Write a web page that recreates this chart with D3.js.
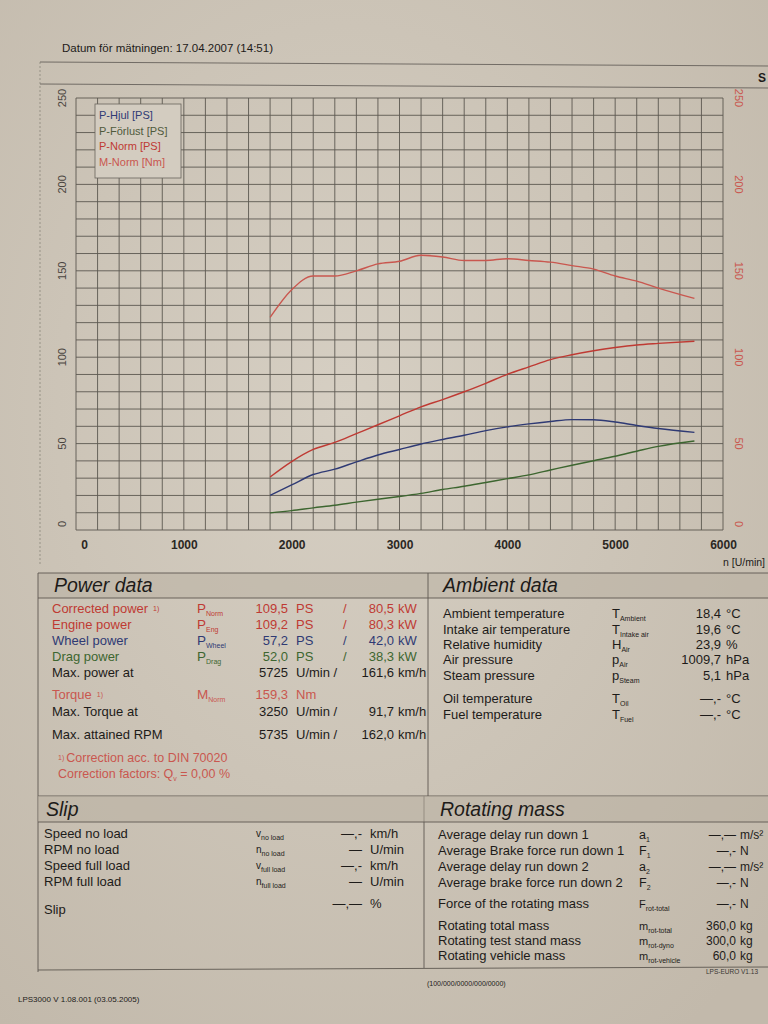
<!DOCTYPE html>
<html>
<head>
<meta charset="utf-8">
<style>
  body { margin: 0; background: #c9c1b4; }
  svg { display: block; font-family: "Liberation Sans", Arial, sans-serif; }
</style>
</head>
<body>
<script src="https://d3js.org/d3.v7.min.js"></script>
<script>
// ---- data ----
const rpm    = [1800, 2000, 2200, 2400, 2600, 2800, 3000, 3200, 3400, 3600, 3800, 4000, 4200, 4400, 4600, 4800, 5000, 5200, 5400, 5735];
const mNorm  = [123, 139, 147, 147, 150, 154, 155.5, 159, 158, 156, 156, 157, 156, 155, 153, 151, 147, 144, 140, 134];
const pNorm  = [30.7, 39.6, 46.6, 50.7, 55.8, 60.9, 66.1, 71.3, 75.5, 80, 84.9, 90.1, 94.4, 98.6, 101.4, 103.7, 105.6, 107.1, 108, 109.2];
const pWheel = [20.1, 26.1, 32.1, 35.2, 39.4, 43.4, 46.6, 49.8, 52.4, 54.8, 57.5, 59.7, 61.4, 62.8, 63.9, 63.8, 62.5, 60.5, 58.7, 56.5];
const pDrag  = [9.9, 11.2, 12.8, 14.3, 16.1, 17.8, 19.4, 21.2, 23.4, 25.3, 27.5, 29.7, 31.9, 34.7, 37.5, 40.1, 42.7, 45.6, 48.4, 51.5];

const xTicks = [0, 1000, 2000, 3000, 4000, 5000, 6000];
const yTicks = [0, 50, 100, 150, 200, 250];
const legendLabels = ["P-Hjul [PS]", "P-Förlust [PS]", "P-Norm [PS]", "M-Norm [Nm]"];

const powerRows = [
  ["Corrected power", "1)", "P", "Norm", "109,5", "PS", "/", "80,5", "kW"],
  ["Engine power", "", "P", "Eng", "109,2", "PS", "/", "80,3", "kW"],
  ["Wheel power", "", "P", "Wheel", "57,2", "PS", "/", "42,0", "kW"],
  ["Drag power", "", "P", "Drag", "52,0", "PS", "/", "38,3", "kW"],
  ["Max. power at", "", "", "", "5725", "U/min /", "", "161,6", "km/h"],
  ["Torque", "1)", "M", "Norm", "159,3", "Nm", "", "", ""],
  ["Max. Torque at", "", "", "", "3250", "U/min /", "", "91,7", "km/h"],
  ["Max. attained RPM", "", "", "", "5735", "U/min /", "", "162,0", "km/h"]
];
const ambientRows = [
  ["Ambient temperature", "T", "Ambient", "18,4", "°C"],
  ["Intake air temperature", "T", "Intake air", "19,6", "°C"],
  ["Relative humidity", "H", "Air", "23,9", "%"],
  ["Air pressure", "p", "Air", "1009,7", "hPa"],
  ["Steam pressure", "p", "Steam", "5,1", "hPa"],
  ["Oil temperature", "T", "Oil", "—,-", "°C"],
  ["Fuel temperature", "T", "Fuel", "—,-", "°C"]
];
const slipRows = [
  ["Speed no load", "v", "no load", "—,-", "km/h"],
  ["RPM no load", "n", "no load", "—", "U/min"],
  ["Speed full load", "v", "full load", "—,-", "km/h"],
  ["RPM full load", "n", "full load", "—", "U/min"],
  ["Slip", "", "", "—,—", "%"]
];
const massRows = [
  ["Average delay run down 1", "a", "1", "—,—", "m/s²"],
  ["Average Brake force run down 1", "F", "1", "—,-", "N"],
  ["Average delay run down 2", "a", "2", "—,—", "m/s²"],
  ["Average brake force run down 2", "F", "2", "—,-", "N"],
  ["Force of the rotating mass", "F", "rot-total", "—,-", "N"],
  ["Rotating total mass", "m", "rot-total", "360,0", "kg"],
  ["Rotating test stand mass", "m", "rot-dyno", "300,0", "kg"],
  ["Rotating vehicle mass", "m", "rot-vehicle", "60,0", "kg"]
];

// ---- colours ----
const col_blue = "#2f3a74", col_green = "#3d6630", col_red = "#bf3a33", col_red2 = "#c9574f", ink = "#1d1b19";
const powerColors = [col_red, col_red, col_blue, col_green, ink, col_red2, ink, ink];

// ---- page ----
const W = 768, H = 1024;
const svg = d3.select("body").append("svg").attr("width", W).attr("height", H);

const defs = svg.append("defs");
const grad = defs.append("radialGradient").attr("id", "paper").attr("cx", "45%").attr("cy", "40%").attr("r", "75%");
grad.append("stop").attr("offset", "0%").attr("stop-color", "#d6cfc3");
grad.append("stop").attr("offset", "100%").attr("stop-color", "#c2b9ab");
svg.append("rect").attr("width", W).attr("height", H).attr("fill", "url(#paper)");

// header
svg.append("text").attr("x", 62).attr("y", 52).attr("font-size", 11.5).attr("fill", ink)
  .text("Datum för mätningen: 17.04.2007 (14:51)");
svg.append("line").attr("x1", 40).attr("x2", W).attr("y1", 62).attr("y2", 66).attr("stroke", "#5a5650").attr("stroke-width", 0.8);
svg.append("line").attr("x1", 40).attr("x2", W).attr("y1", 84).attr("y2", 88).attr("stroke", "#5a5650").attr("stroke-width", 0.8);
svg.append("line").attr("x1", 40).attr("x2", 40).attr("y1", 62).attr("y2", 565).attr("stroke", "#77726a").attr("stroke-width", 0.6).attr("stroke-dasharray", "2,2");
svg.append("text").attr("x", 758).attr("y", 82).attr("font-size", 12).attr("font-weight", "bold").attr("fill", ink).text("S");

// ---- chart ----
const plotL = 76, plotR = 723, plotT = 98, plotB = 530;
const x = d3.scaleLinear().domain([0, 6000]).range([plotL, plotR]);
const yL = d3.scaleLinear().domain([0, 250]).range([plotB, plotT]);
const yR = d3.scaleLinear().domain([0, 250]).range([plotB, plotT]);

const grid = svg.append("g").attr("stroke", "#4a4640").attr("stroke-width", 0.9).attr("opacity", 0.85);
grid.selectAll(".v").data(d3.range(0, 6001, 200)).enter().append("line")
  .attr("x1", d => x(d)).attr("x2", d => x(d)).attr("y1", plotT).attr("y2", plotB);
grid.selectAll(".h").data(d3.range(0, 251, 10)).enter().append("line")
  .attr("x1", plotL).attr("x2", plotR).attr("y1", d => yL(d)).attr("y2", d => yL(d));

// axes (labels only, as on the print)
const xAxis = svg.append("g").attr("transform", "translate(0," + (plotB + 7) + ")")
  .call(d3.axisBottom(x).tickValues(xTicks).tickSize(0).tickFormat(d3.format("d")));
xAxis.select(".domain").remove();
xAxis.selectAll("text").attr("font-size", 12).attr("font-weight", "bold").attr("fill", "#2a2723")
  .attr("font-family", "Liberation Sans, Arial, sans-serif");
xAxis.selectAll(".tick").filter(d => d === 0).select("text").attr("dx", 8);

const yAxisL = svg.append("g").attr("transform", "translate(" + (plotL - 10) + ",0)")
  .call(d3.axisLeft(yL).tickValues(yTicks).tickSize(0));
yAxisL.select(".domain").remove();
yAxisL.selectAll("text").attr("font-size", 11).attr("fill", "#4a4540").attr("x", 0).attr("dy", 0)
  .attr("text-anchor", "middle").attr("transform", "rotate(-90)")
  .attr("font-family", "Liberation Sans, Arial, sans-serif");
yAxisL.selectAll(".tick").each(function(d) {
  d3.select(this).attr("transform", "translate(0," + (d === 0 ? yL(d) - 6 : yL(d)) + ")");
});

const yAxisR = svg.append("g").attr("transform", "translate(" + (plotR + 12) + ",0)")
  .call(d3.axisRight(yR).tickValues(yTicks).tickSize(0));
yAxisR.select(".domain").remove();
yAxisR.selectAll("text").attr("font-size", 11).attr("fill", col_red2).attr("x", 0).attr("dy", 0)
  .attr("text-anchor", "middle").attr("transform", "rotate(90)")
  .attr("font-family", "Liberation Sans, Arial, sans-serif");
yAxisR.selectAll(".tick").each(function(d) {
  d3.select(this).attr("transform", "translate(0," + (d === 0 ? yR(d) - 6 : yR(d)) + ")");
});

svg.append("text").attr("x", 765).attr("y", 566).attr("text-anchor", "end").attr("font-size", 10.5).attr("fill", ink).text("n [U/min]");

// curves
const series = [
  { v: pDrag, c: col_green, y: yL },
  { v: pWheel, c: col_blue, y: yL },
  { v: pNorm, c: col_red, y: yL },
  { v: mNorm, c: col_red2, y: yR }
];
for (const s of series) {
  svg.append("path")
    .datum(rpm.map((r, i) => [r, s.v[i]]))
    .attr("fill", "none").attr("stroke", s.c).attr("stroke-width", 1.4)
    .attr("d", d3.line().x(d => x(d[0])).y(d => s.y(d[1])).curve(d3.curveMonotoneX));
}

// legend
const lg = svg.append("g").attr("transform", "translate(95,104)");
lg.append("rect").attr("width", 86).attr("height", 74).attr("fill", "#d3ccc0").attr("stroke", "#6a655d").attr("stroke-width", 0.8);
const legendColors = [col_blue, "#4f5a3c", col_red, col_red2];
lg.selectAll("text").data(legendLabels).enter().append("text")
  .attr("x", 4).attr("y", (d, i) => 15 + i * 15.5).attr("font-size", 11)
  .attr("fill", (d, i) => legendColors[i]).text(d => d);

// ---- tables ----
const fs = 13;
const rule = (x1, y1, x2, y2, w) => svg.append("line").attr("x1", x1).attr("y1", y1).attr("x2", x2).attr("y2", y2)
  .attr("stroke", "#5d5850").attr("stroke-width", w || 0.9);

function header(x0, x1, y0, y1, label, lx) {
  svg.append("rect").attr("x", x0).attr("y", y0).attr("width", x1 - x0).attr("height", y1 - y0).attr("fill", "#b9b0a2").attr("opacity", 0.55);
  svg.append("text").attr("x", lx).attr("y", y1 - 6).attr("font-size", 19.5).attr("font-style", "italic").attr("fill", ink).text(label);
}

function sym(g, xx, yy, main, sub, color, size) {
  const t = g.append("text").attr("x", xx).attr("y", yy).attr("font-size", size || 12).attr("fill", color);
  t.append("tspan").text(main);
  t.append("tspan").attr("font-size", 7).attr("dy", 3).text(sub);
}

// Power data / Ambient data block
const blk1Top = 573, blk1Head = 598, blk1Bot = 796, divX = 428;
header(38, W, blk1Top, blk1Head, "Power data", 54);
svg.append("text").attr("x", 443).attr("y", blk1Head - 6).attr("font-size", 19.5).attr("font-style", "italic").attr("fill", ink).text("Ambient data");
rule(38, blk1Top, W, blk1Top); rule(38, blk1Head, W, blk1Head); rule(38, blk1Bot, W, blk1Bot);
rule(38, blk1Top, 38, 972); rule(divX, blk1Top, divX, blk1Bot); rule(424, blk1Bot, 424, 968);

const pg = svg.append("g");
const powerY = [613, 629, 645, 661, 677, 699, 716, 739];
powerRows.forEach((r, i) => {
  const yy = powerY[i], c = powerColors[i];
  const t = pg.append("text").attr("x", 52).attr("y", yy).attr("font-size", fs).attr("fill", c).text(r[0]);
  if (r[1]) t.append("tspan").attr("font-size", 7).attr("dx", 5).attr("dy", -2).text(r[1]);
  if (r[2]) sym(pg, 197, yy, r[2], r[3], c, 13.5);
  pg.append("text").attr("x", 288).attr("y", yy).attr("text-anchor", "end").attr("font-size", fs).attr("fill", c).text(r[4]);
  pg.append("text").attr("x", 296).attr("y", yy).attr("font-size", fs).attr("fill", c).text(r[5]);
  if (r[6]) pg.append("text").attr("x", 343).attr("y", yy).attr("font-size", fs).attr("fill", c).text(r[6]);
  if (r[7]) pg.append("text").attr("x", 394).attr("y", yy).attr("text-anchor", "end").attr("font-size", fs).attr("fill", c).text(r[7]);
  if (r[8]) pg.append("text").attr("x", 398).attr("y", yy).attr("font-size", fs).attr("fill", c).text(r[8]);
});
const fn = pg.append("text").attr("x", 58).attr("y", 762).attr("font-size", 12.5).attr("fill", col_red2);
fn.append("tspan").attr("font-size", 7).attr("dy", -2).text("1)");
fn.append("tspan").attr("dy", 2).attr("dx", 2).text("Correction acc. to DIN 70020");
const cf = pg.append("text").attr("x", 58).attr("y", 778).attr("font-size", 12.5).attr("fill", col_red2);
cf.append("tspan").text("Correction factors: Q");
cf.append("tspan").attr("font-size", 7).attr("dy", 3).text("v");
cf.append("tspan").attr("dy", -3).text(" =  0,00 %");

const ag = svg.append("g");
const ambY = [618, 634, 649, 664, 680, 703, 719];
ambientRows.forEach((r, i) => {
  const yy = ambY[i];
  ag.append("text").attr("x", 443).attr("y", yy).attr("font-size", fs).attr("fill", ink).text(r[0]);
  sym(ag, 612, yy, r[1], r[2], ink, 13);
  ag.append("text").attr("x", 721).attr("y", yy).attr("text-anchor", "end").attr("font-size", fs).attr("fill", ink).text(r[3]);
  ag.append("text").attr("x", 726).attr("y", yy).attr("font-size", fs).attr("fill", ink).text(r[4]);
});

// Slip / Rotating mass block
const blk2Head = 822, blk2Bot = 970;
header(38, W, blk1Bot, blk2Head, "Slip", 46);
svg.append("text").attr("x", 440).attr("y", blk2Head - 6).attr("font-size", 19.5).attr("font-style", "italic").attr("fill", ink).text("Rotating mass");
rule(38, blk2Head, W, blk2Head); rule(38, blk2Bot, W, blk2Bot - 3);

const sg = svg.append("g");
const slipY = [838, 854, 870, 886, 914];
slipRows.forEach((r, i) => {
  const yy = slipY[i];
  sg.append("text").attr("x", 44).attr("y", yy).attr("font-size", fs).attr("fill", ink).text(r[0]);
  if (r[1]) sym(sg, 256, yy - 1, r[1], r[2], ink, 10);
  sg.append("text").attr("x", 362).attr("y", yy - (i === 4 ? 6 : 0)).attr("text-anchor", "end").attr("font-size", fs).attr("fill", ink).text(r[3]);
  sg.append("text").attr("x", 370).attr("y", yy - (i === 4 ? 6 : 0)).attr("font-size", fs).attr("fill", ink).text(r[4]);
});

const mg = svg.append("g");
const massY = [839, 855, 871, 887, 908, 930, 945, 960];
massRows.forEach((r, i) => {
  const yy = massY[i];
  mg.append("text").attr("x", 438).attr("y", yy).attr("font-size", fs).attr("fill", ink).text(r[0]);
  const small = r[2].length > 2;
  sym(mg, 639, yy, r[1], r[2], ink, small ? 11 : 12.5);
  mg.append("text").attr("x", 736).attr("y", yy).attr("text-anchor", "end").attr("font-size", 12).attr("fill", ink).text(r[3]);
  mg.append("text").attr("x", 740).attr("y", yy).attr("font-size", 12).attr("fill", ink).text(r[4]);
});

// footer
svg.append("text").attr("x", 18).attr("y", 1002).attr("font-size", 8).attr("fill", ink).text("LPS3000 V 1.08.001 (03.05.2005)");
svg.append("text").attr("x", 427).attr("y", 986).attr("font-size", 7).attr("fill", ink).text("(100/000/0000/000/0000)");
svg.append("text").attr("x", 706).attr("y", 974).attr("font-size", 6.5).attr("fill", "#3a3733").text("LPS-EURO V1.13");
</script>
</body>
</html>
